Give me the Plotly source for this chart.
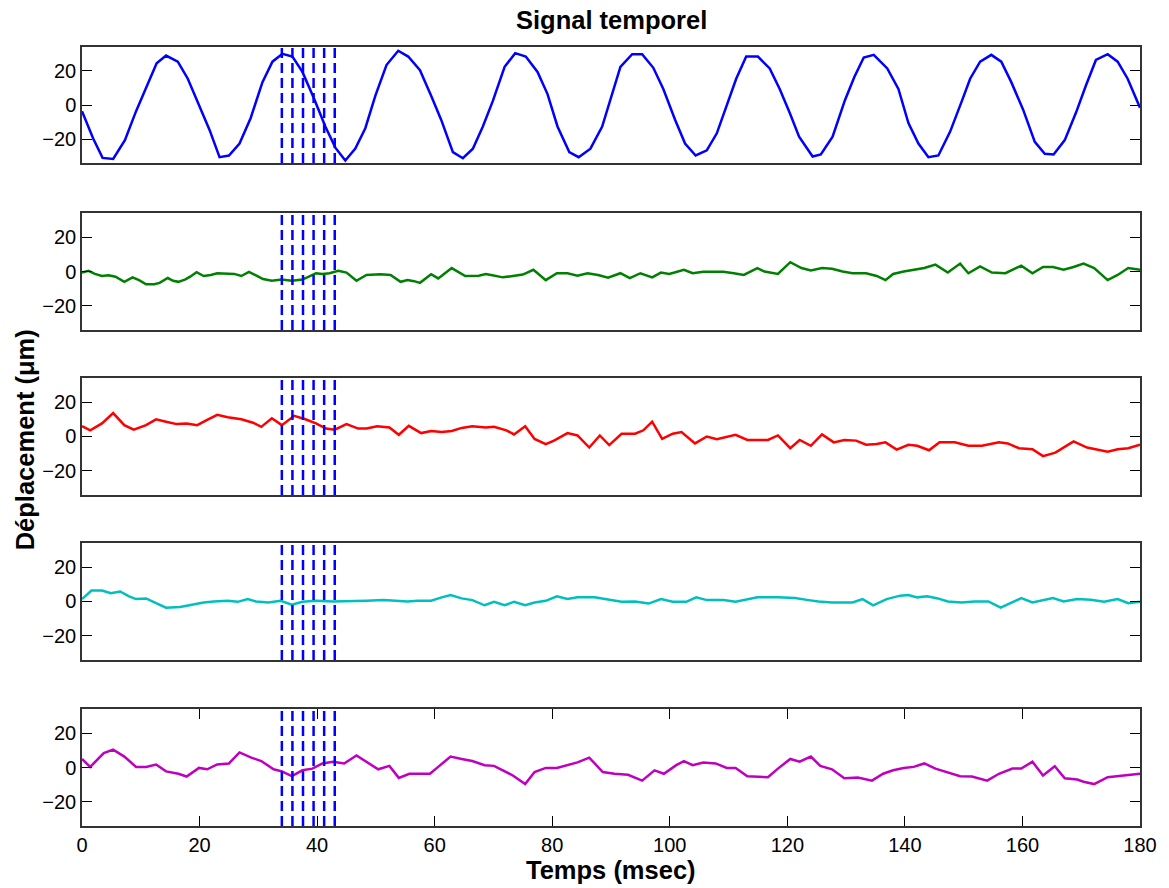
import plotly.graph_objects as go

# ---------------- data ----------------
t_blue = [0, 1.9, 3.5, 5.3, 7.3, 9.2, 11.2, 12.7, 14.3, 16.3, 18.0, 20.0, 21.7, 23.4, 25.0, 26.8,
          28.7, 30.7, 32.4, 34.1, 35.8, 37.5, 39.4, 41.4, 43.1, 44.8, 46.5, 48.2, 49.9, 51.8, 53.8,
          55.5, 57.5, 59.4, 61.1, 63.1, 64.8, 66.5, 68.2, 69.9, 71.9, 73.7, 75.5, 77.5, 79.2, 80.9,
          82.9, 84.5, 86.5, 88.5, 90.2, 91.6, 93.6, 95.3, 97.2, 98.9, 100.9, 102.6, 104.4, 106.3,
          108.0, 109.6, 111.3, 113.0, 115.0, 117.0, 118.7, 120.4, 122.0, 124.3, 125.7, 127.7, 129.8,
          131.4, 133.0, 134.7, 137.0, 138.9, 140.6, 142.3, 144.0, 145.7, 147.7, 149.7, 151.1, 152.8,
          154.7, 156.4, 158.1, 160.1, 162.1, 163.8, 165.3, 167.2, 169.1, 170.8, 172.5, 174.5, 176.2,
          177.9, 180.0]
v_blue = [-3.6, -19.6, -31, -31.6, -20.6, -3.6, 12.4, 24.4, 29, 25.4, 15.4, -0.6, -14.6, -30.6, -29.6,
          -22.6, -7.6, 13.4, 25.4, 30, 28.4, 19.4, 4.4, -12.6, -25, -32.6, -25.6, -13.6, 5.4, 23.4,
          31.8, 28.4, 20.4, 5.4, -8.6, -27.6, -31.2, -25.6, -12.6, 2.4, 22.4, 30.4, 28.4, 19.4, 6.4,
          -12.6, -27.6, -30.6, -25.6, -12.6, 7.4, 22.4, 29.8, 29.8, 21.8, 9.4, -8.6, -22.6, -29.6,
          -26.6, -16.6, -0.6, 15.4, 28.4, 28.4, 21.4, 9.4, -4.6, -18.6, -30.2, -29, -18.6, 2.8,
          16.4, 27.8, 29.4, 21.4, 9.4, -10.6, -22.6, -30.6, -29.6, -15.6, 2.4, 15.4, 25.4, 29.4,
          25.4, 13.4, -2.6, -21.6, -28.6, -29, -20.6, -4.6, 11.4, 26.4, 29.8, 25.4, 15.4, -1.6]

t_green = [0, 1.1, 2.2, 3.4, 4.5, 5.7, 7.2, 8.6, 9.7, 10.9, 12.3, 13.2, 14.6, 15.5, 16.4, 17.6, 18.4,
           19.5, 20.7, 21.9, 23.0, 24.8, 25.9, 27.1, 28.4, 29.6, 30.8, 32.3, 34.0, 35.7, 37.5, 38.6,
           39.8, 40.9, 42.1, 43.6, 45.0, 46.7, 48.4, 50.8, 52.5, 54.2, 55.4, 56.5, 57.5, 59.4, 60.6,
           62.9, 65.2, 67.5, 68.7, 69.8, 71.6, 73.3, 75.0, 76.8, 78.9, 80.8, 82.6, 84.3, 86.0, 87.8,
           89.5, 91.6, 93.2, 95.0, 97.0, 98.5, 99.9, 100.8, 102.4, 103.9, 105.7, 107.4, 109.1, 110.9,
           112.6, 114.9, 116.1, 118.4, 120.5, 122.4, 124.0, 125.9, 127.6, 129.4, 131.1, 133.4, 135.2,
           136.7, 138.0, 139.8, 141.5, 143.3, 145.2, 147.3, 149.4, 150.8, 152.8, 154.8, 157.1, 159.8,
           161.7, 163.5, 165.2, 167.0, 168.7, 170.4, 172.2, 174.5, 176.2, 178.0, 180.0]
v_green = [-0.6, 0.4, -1.4, -2.6, -2.2, -3, -6, -3.4, -5, -7.4, -7.4, -6.6, -3.8, -5.4, -6, -4.6, -3,
           -0.4, -2.6, -2, -1, -1, -1.4, -2.6, -0.2, -2.2, -4.4, -5.4, -4.6, -5.4, -4.6, -3, -1, -1.4,
           -1, 0.4, -0.6, -5.4, -2, -1.6, -2, -6, -5, -5.6, -6.6, -1.6, -4, 2, -2.6, -2.4, -1.4, -2.2,
           -3.4, -2.6, -1.8, 1, -5, -1, -1, -2.4, -1, -2, -3.6, -1, -3.8, -1, -3.4, -0.6, -1.4, -0.6,
           1, -1, -0.2, -0.2, -0.2, -1, -2, 2, 0, -1.4, 5.4, 2, 0.6, 2, 1.6, 0, -1, -1, -2.6, -5,
           -1.4, 0, 1, 2, 4, -0.6, 4.6, -1, 3, -0.6, -1, 3.4, -1, 2.6, 2.6, 1, 2.6, 4.6, 2, -5, -2,
           2, 1]

t_red = [0, 1.4, 3.4, 5.3, 7.2, 8.8, 10.9, 12.6, 14.3, 16.1, 17.8, 19.6, 21.3, 23.0, 24.8, 27.1, 29.1,
         30.5, 32.3, 34.0, 36.1, 38.0, 39.8, 41.5, 43.0, 45.0, 47.0, 48.4, 50.2, 52.3, 53.9, 55.6,
         57.7, 59.4, 61.2, 62.9, 64.6, 66.4, 68.7, 70.1, 72.2, 73.5, 75.4, 77.0, 78.9, 80.3, 82.6,
         84.3, 86.3, 88.1, 89.7, 91.8, 94.1, 95.5, 97.0, 98.7, 100.5, 102.0, 104.3, 106.3, 108.0,
         109.7, 111.2, 113.2, 114.9, 116.7, 118.4, 120.5, 122.1, 124.0, 125.9, 127.9, 129.7, 131.7,
         133.4, 135.2, 136.7, 138.6, 140.6, 142.1, 144.1, 145.9, 148.5, 150.8, 153.1, 156.0, 157.5,
         159.4, 161.7, 163.5, 165.6, 167.0, 168.7, 171.0, 172.7, 174.5, 176.2, 178.0, 180.0]
v_red = [6, 3.6, 7.6, 13.6, 6.6, 4, 6.6, 10, 8.6, 7.2, 7.6, 6.6, 9.6, 12.6, 11.2, 10, 8, 5.6, 10.6,
         6.6, 12, 10, 7.6, 4.6, 4, 7.2, 4.6, 4.6, 6, 5.2, 1, 6.2, 2, 3.2, 2.6, 3.2, 5, 6, 5.2, 5.6,
         3.6, 1.2, 6, -1.4, -4.4, -2.4, 2, 0.6, -6.4, 0.6, -5, 1.6, 1.6, 3.6, 8.6, -1.4, 1.6, 2.6,
         -4, 0, -1.6, -0.4, 1, -2, -2, -2, 0.6, -6.8, -2, -5.4, 1.2, -3.4, -2, -2.4, -4.8, -4.4,
         -3.4, -7.6, -4.8, -5.4, -8, -3.4, -3.4, -5.4, -5.4, -3.4, -4, -6.8, -7.4, -11.4, -9.4,
         -6.4, -2.8, -6.4, -7.4, -8.8, -7.4, -6.8, -4.8]

t_cyan = [0, 1.6, 3.4, 4.9, 6.5, 8.0, 9.2, 10.9, 12.6, 14.3, 16.7, 18.4, 20.7, 22.4, 24.8, 26.5, 28.2,
          29.6, 31.7, 33.8, 35.7, 37.5, 39.8, 42.7, 45.6, 48.4, 51.3, 55.4, 57.1, 59.4, 61.2, 62.7,
          64.6, 66.4, 68.5, 70.1, 71.9, 73.5, 75.4, 77.0, 78.9, 80.8, 82.6, 84.3, 87.2, 89.5, 91.8,
          94.1, 96.4, 98.5, 100.5, 102.8, 104.5, 106.3, 109.1, 111.2, 113.2, 114.9, 118.4, 121.3,
          123.6, 125.3, 127.6, 131.1, 132.8, 134.6, 136.9, 139.2, 140.6, 142.1, 143.8, 145.6, 147.3,
          149.6, 151.9, 154.2, 156.3, 158.3, 159.8, 161.7, 163.5, 165.2, 167.0, 169.3, 171.6, 173.9,
          176.2, 178.0, 180.0]
v_cyan = [1.4, 6.4, 6.4, 4.8, 5.8, 3, 1.4, 1.8, -1, -3.6, -3.2, -2, -0.6, 0, 0.4, -0.2, 1.4, 0,
          -0.6, 0.4, -1.8, -0.2, 0.4, 0, 0, 0.4, 0.8, 0, 0.4, 0.4, 2.4, 3.8, 1.8, 0.8, -2.2, -0.2,
          -2.2, -0.2, -2.2, -0.6, 0.4, 3, 1.4, 2.4, 2.4, 1, -0.2, 0, -1.2, 1.4, -0.2, -0.2, 2.4, 0.8,
          0.8, -0.2, 1.4, 2.4, 2.4, 2, 0.8, 0, -0.6, -0.6, 1.4, -2.2, 1.4, 3.4, 3.8, 2.4, 3, 1.8, 0,
          -0.6, 0, 0, -3.6, -0.6, 2, -0.6, 0.8, 2, 0, 1.4, 1, -0.2, 1.4, -1, -0.2]

t_magenta = [0, 1.4, 3.7, 5.3, 7.2, 9.2, 10.9, 12.6, 14.3, 16.4, 17.8, 19.9, 21.3, 23.0, 25.0, 26.8,
             28.8, 30.5, 32.6, 34.0, 35.7, 37.5, 39.2, 40.9, 42.7, 44.6, 46.7, 48.4, 50.4, 52.3,
             53.9, 55.7, 59.2, 60.6, 62.7, 64.6, 66.4, 68.5, 70.1, 73.3, 75.4, 77.0, 78.9, 80.8,
             82.6, 84.3, 86.3, 88.6, 90.6, 92.9, 95.3, 97.4, 99.0, 101.1, 102.4, 103.9, 105.7, 107.8,
             109.7, 111.2, 113.2, 116.7, 118.4, 120.5, 122.1, 124.0, 125.6, 127.6, 129.7, 132.0,
             134.4, 136.3, 138.0, 139.8, 141.5, 143.3, 145.2, 147.3, 149.4, 151.4, 154.0, 156.0,
             158.3, 159.8, 161.7, 163.5, 165.5, 167.2, 169.3, 170.4, 172.2, 174.5, 176.2, 178.0, 180.0]
v_magenta = [5, 0.4, 8.4, 10.4, 6.4, 0.4, 0.4, 1.8, -2.2, -3.6, -5.2, -0.2, -1, 1.8, 2.4, 8.8, 5.8,
             3.8, -1, -2.2, -5, -1.6, -0.6, 2.4, 3.4, 2.4, 7, 3.4, -1, 1, -6, -3.6, -3.6, 0.4, 6.4,
             5, 3.8, 1.4, 1, -4.6, -9.6, -2.6, -0.2, -0.2, 1.4, 3, 5.8, -2.6, -3.6, -4.2, -7.6,
             -1.6, -3.6, 1.4, 3.8, 1.4, 3, 2.4, -0.2, -0.2, -5, -5.6, -0.6, 5, 3.4, 6.4, 1, -1, -6.2,
             -5.8, -7.6, -3.6, -1.6, -0.2, 0.4, 2.4, -0.6, -2.6, -5, -5.2, -7.6, -3.6, -0.6, -0.6,
             3.4, -4.6, 0.8, -6.2, -7, -8.2, -9.6, -5.6, -5, -4.6, -3.6]

cursor_times = [34.0, 35.8, 37.6, 39.4, 41.2, 43.0]
x_ticks = [0, 20, 40, 60, 80, 100, 120, 140, 160, 180]
y_ticks = [-20, 0, 20]

title_text = "Signal temporel"
x_title = "Temps (msec)"
y_title = "Déplacement (μm)"

# ---------------- figure ----------------
series = [
    (t_blue, v_blue, "#0000FF"),
    (t_green, v_green, "#008000"),
    (t_red, v_red, "#FF0000"),
    (t_cyan, v_cyan, "#00BFBF"),
    (t_magenta, v_magenta, "#BF00BF"),
]
domains = [[0.8511, 1.0], [0.6367, 0.7869], [0.4249, 0.5751], [0.2131, 0.3633], [0.0, 0.150]]

FONT = "Liberation Sans, Arial, sans-serif"
FRAME = "#333333"
TICK_SIZE = 20
LABEL_SIZE = 25.5

fig = go.Figure()
layout_axes = {}
for i, (t, v, col) in enumerate(series):
    n = i + 1
    xa = "x" if n == 1 else f"x{n}"
    ya = "y" if n == 1 else f"y{n}"
    fig.add_trace(go.Scatter(x=t, y=v, mode="lines", line=dict(color=col, width=2.5),
                             xaxis=xa, yaxis=ya, showlegend=False, hoverinfo="skip"))
    for ct in cursor_times:
        fig.add_shape(type="line", x0=ct, x1=ct, y0=0, y1=1, xref=xa, yref=f"{ya} domain",
                      line=dict(color="#0000FF", width=2.5, dash="10px,5px"))
    last = (n == 5)
    layout_axes["xaxis" if n == 1 else f"xaxis{n}"] = dict(
        domain=[0, 1], range=[0, 180], anchor=ya, showline=True, linecolor=FRAME, linewidth=1.5,
        mirror="ticks" if last else True, ticks="inside" if last else "", ticklen=10,
        tickcolor="#000000", tickwidth=1.2,
        tickvals=x_ticks, showticklabels=last, showgrid=False, zeroline=False,
        tickfont=dict(family=FONT, size=TICK_SIZE, color="black"))
    layout_axes["yaxis" if n == 1 else f"yaxis{n}"] = dict(
        domain=domains[i], range=[-34, 34], anchor=xa, showline=True, linecolor=FRAME,
        linewidth=1.5, mirror="ticks", ticks="inside", ticklen=10, tickcolor="#000000",
        tickwidth=1.2, tickvals=y_ticks, showgrid=False, zeroline=False,
        tickfont=dict(family=FONT, size=TICK_SIZE, color="black"))

fig.update_layout(
    width=1169, height=888,
    margin=dict(l=82, r=23, t=47, b=62),
    paper_bgcolor="white", plot_bgcolor="white",
    font=dict(family=FONT, color="black"),
    showlegend=False,
    **layout_axes,
)

fig.add_annotation(text=f"<b>{title_text}</b>", x=0.5, y=(826 - 20) / 779, xref="paper", yref="paper",
                   showarrow=False, font=dict(family=FONT, size=LABEL_SIZE, color="black"),
                   xanchor="center", yanchor="middle")
fig.add_annotation(text=f"<b>{x_title}</b>", x=0.5, y=(826 - 870) / 779, xref="paper", yref="paper",
                   showarrow=False, font=dict(family=FONT, size=LABEL_SIZE, color="black"),
                   xanchor="center", yanchor="middle")
fig.add_annotation(text=f"<b>{y_title}</b>", x=(25 - 82) / 1064, y=(826 - 440) / 779,
                   xref="paper", yref="paper", textangle=-90, showarrow=False,
                   font=dict(family=FONT, size=LABEL_SIZE, color="black"),
                   xanchor="center", yanchor="middle")

# remove the browser's default 8px body margin so the figure fills the window exactly
fig.write_html("out.html",
               config={"displayModeBar": False},
               post_script="document.body.style.margin='0';document.body.style.overflow='hidden';")
